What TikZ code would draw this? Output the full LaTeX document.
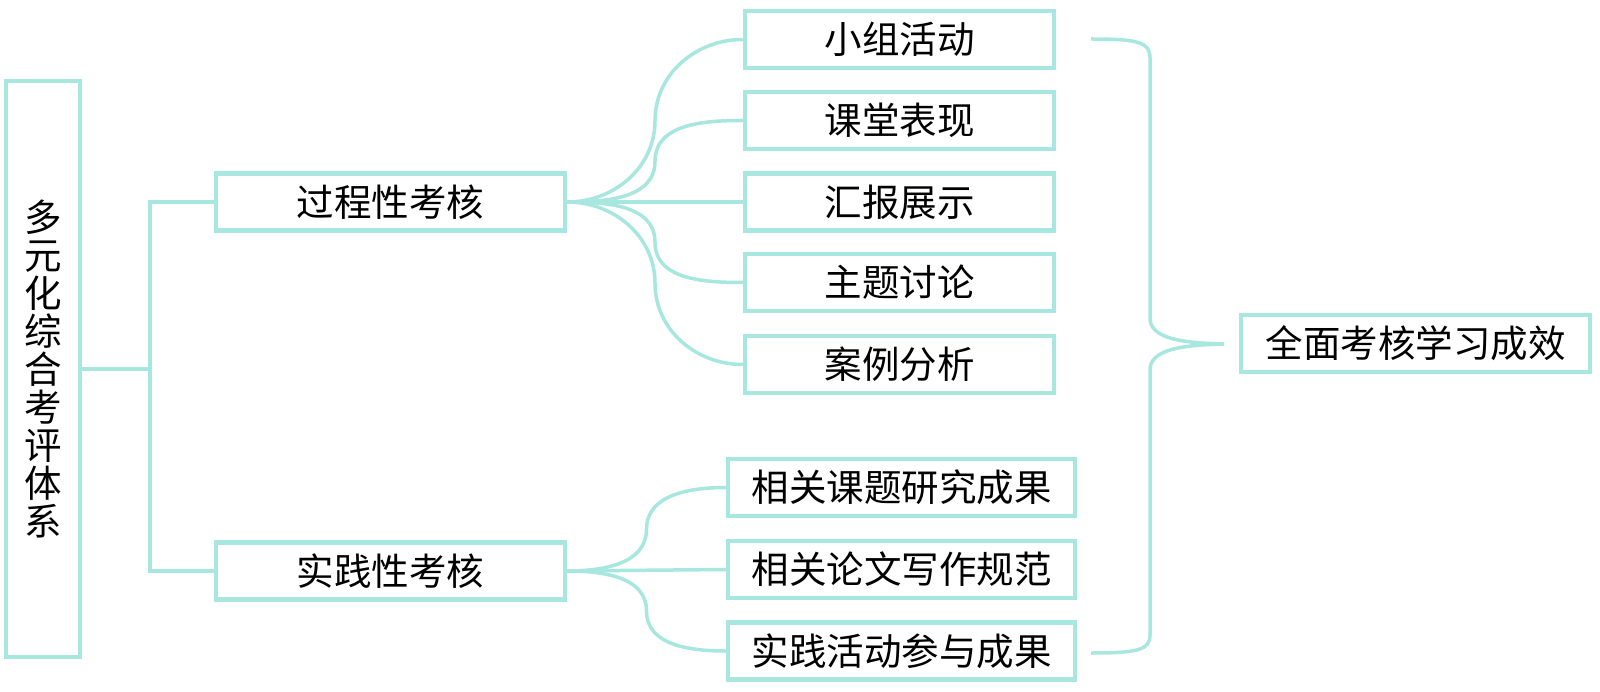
\documentclass[tikz,border=0pt]{standalone}
\usepackage{fontspec}
\usetikzlibrary{calc}
\newfontfamily\cjk{Noto Sans CJK SC}
\definecolor{tealline}{RGB}{168,230,224}
\begin{document}
\begin{tikzpicture}[x=1pt,y=-1pt,
  box/.style={draw=tealline,line width=4.5pt,inner sep=0pt,text=black,
    font=\cjk\fontsize{37.5}{38}\selectfont},
  link/.style={draw=tealline,line width=3.5pt}]
\useasboundingbox (0,0) rectangle (1600,692);
% root
\node[box,minimum width=74pt,minimum height=576pt,align=center] (root) at (43,369)
  {多\\元\\化\\综\\合\\考\\评\\体\\系};
% level 2
\node[box,minimum width=349pt,minimum height=57pt] (p1) at (390.5,202) {过程性考核};
\node[box,minimum width=349pt,minimum height=57pt] (p2) at (390.5,571) {实践性考核};
% level 3 (top)
\node[box,minimum width=309pt,minimum height=57pt] (c1) at (899.5,39.5) {小组活动};
\node[box,minimum width=309pt,minimum height=57pt] (c2) at (899.5,120.5) {课堂表现};
\node[box,minimum width=309pt,minimum height=57pt] (c3) at (899.5,202) {汇报展示};
\node[box,minimum width=309pt,minimum height=57pt] (c4) at (899.5,282.5) {主题讨论};
\node[box,minimum width=309pt,minimum height=57pt] (c5) at (899.5,364.5) {案例分析};
% level 3 (bottom)
\node[box,minimum width=347pt,minimum height=57pt] (d1) at (901.5,487.5) {相关课题研究成果};
\node[box,minimum width=347pt,minimum height=57pt] (d2) at (901.5,569.5) {相关论文写作规范};
\node[box,minimum width=347pt,minimum height=57pt] (d3) at (901.5,651) {实践活动参与成果};
% result
\node[box,minimum width=349pt,minimum height=57pt] (res) at (1415.5,343.5) {全面考核学习成效};
% root connectors
\draw[link] (root.east) -- (150,369) |- (p1.west);
\draw[link] (root.east) -- (150,369) |- (p2.west);
% curved connectors
\foreach \s/\c/\a/\b in {p1/c1/-90/90,p1/c2/-90/90,p1/c4/90/-90,p1/c5/90/-90,
                         p2/d1/-90/90,p2/d3/90/-90}
  \draw[link] (\s.east) to[out=0,in=\a] ($(\s.east)!0.5!(\c.west)$)
    to[out=\b,in=180] (\c.west);
\draw[link] (p1.east) -- (c3.west);
\draw[link] (p2.east) -- (d2.west);
% brace
\coordinate (bt) at (1091,39);
\coordinate (bb) at (1091,653);
\coordinate (tip) at (1224,344);
\draw[link] (bt) .. controls (1138,39) and (1150,42) .. (1150,58)
  -- (1150,318) .. controls (1150,338) and (1180,343) .. (tip);
\draw[link] (tip) .. controls (1180,345) and (1150,350) .. (1150,370)
  -- (1150,635) .. controls (1150,650) and (1138,653) .. (bb);
\end{tikzpicture}
\end{document}
